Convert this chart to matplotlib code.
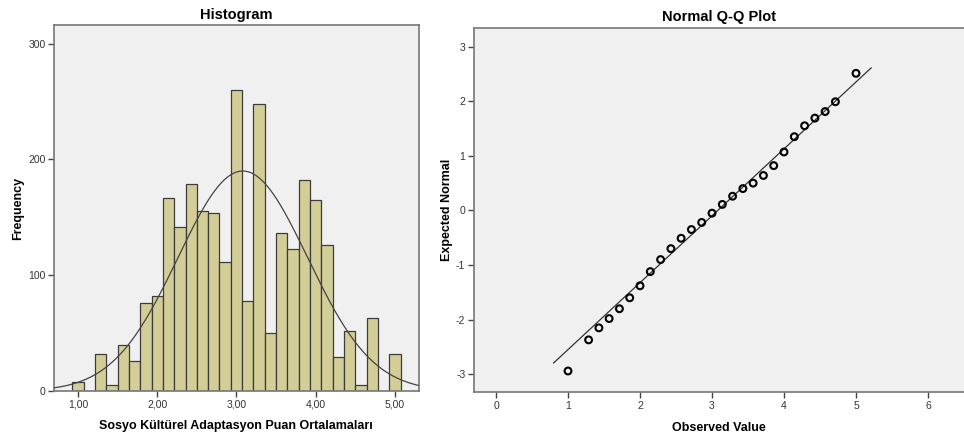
import numpy as np
import matplotlib
matplotlib.use("Agg")
import matplotlib.pyplot as plt

plt.rcParams['font.family'] = ['Liberation Sans', 'DejaVu Sans']
plt.rcParams['axes.unicode_minus'] = False

# ---- Histogram data (bin centres 1 + k/7) ----
bin_centers = [1.0, 1.142857, 1.285714, 1.428571, 1.571429, 1.714286, 1.857143,
               2.0, 2.142857, 2.285714, 2.428571, 2.571429, 2.714286, 2.857143,
               3.0, 3.142857, 3.285714, 3.428571, 3.571429, 3.714286, 3.857143,
               4.0, 4.142857, 4.285714, 4.428571, 4.571429, 4.714286, 4.857143, 5.0]
frequencies = [8, 0, 32, 5, 40, 26, 76, 82, 167, 142, 179, 155, 154, 111,
               260, 78, 248, 50, 136, 123, 182, 165, 126, 29, 52, 5, 63, 0, 32]
bin_width = 1 / 7
curve_mean = 3.08
curve_sd = 0.818
curve_n = 2726
hist_xticks = [1.0, 2.0, 3.0, 4.0, 5.0]
hist_xticklabels = ["1,00", "2,00", "3,00", "4,00", "5,00"]
hist_yticks = [0, 100, 200, 300]

# ---- Q-Q data ----
qq_observed = [1.0, 1.286, 1.429, 1.571, 1.714, 1.857, 2.0, 2.143, 2.286, 2.429,
               2.571, 2.714, 2.857, 3.0, 3.143, 3.286, 3.429, 3.571, 3.714, 3.857,
               4.0, 4.143, 4.286, 4.429, 4.571, 4.714, 5.0]
qq_expected = [-2.94, -2.37, -2.15, -1.98, -1.80, -1.60, -1.38, -1.12, -0.90, -0.70,
               -0.51, -0.35, -0.22, -0.05, 0.11, 0.26, 0.40, 0.50, 0.64, 0.82,
               1.07, 1.35, 1.55, 1.69, 1.81, 1.99, 2.51]
qq_line_x = [0.80, 5.21]
qq_xticks = [0, 1, 2, 3, 4, 5, 6]
qq_yticks = [-3, -2, -1, 0, 1, 2, 3]

BG = '#F0F0F0'
BAR = '#D3CE97'
EDGE = '#3c3c3c'
FRAME = '#777777'
TICKC = '#333333'

fig = plt.figure(figsize=(9.64, 4.38), dpi=100)

def style(ax):
    ax.set_facecolor(BG)
    for s in ax.spines.values():
        s.set_color(FRAME)
        s.set_linewidth(1.2)
    ax.tick_params(direction='out', length=4, width=1, color='#444444',
                   labelsize=7.5, labelcolor=TICKC, pad=2)

# Histogram
ax1 = fig.add_axes([54/964, 1-391/438, (418.7-54)/964, (391-25)/438])
style(ax1)
ax1.bar(bin_centers, frequencies, width=bin_width, color=BAR, edgecolor=EDGE,
        linewidth=0.9, zorder=2)
ax1.set_xlim(0.697, 5.30)
ax1.set_ylim(0, 316)
xs = np.linspace(0.697, 5.30, 400)
ys = curve_n * bin_width / (curve_sd * np.sqrt(2*np.pi)) * np.exp(-0.5*((xs-curve_mean)/curve_sd)**2)
ax1.plot(xs, ys, color='#444444', linewidth=0.9, zorder=3)
ax1.set_xticks(hist_xticks)
ax1.set_xticklabels(hist_xticklabels)
ax1.set_yticks(hist_yticks)
ax1.set_title("Histogram", fontsize=10.5, fontweight='bold', pad=4)
ax1.set_xlabel("Sosyo Kültürel Adaptasyon Puan Ortalamaları", fontsize=9, fontweight='bold', labelpad=8)
ax1.set_ylabel("Frequency", fontsize=9, fontweight='bold', labelpad=3)

# Q-Q plot
ax2 = fig.add_axes([473.7/964, 1-392.3/438, (964-473.7)/964, (392.3-28)/438])
style(ax2)
ax2.spines['right'].set_visible(False)
ax2.set_xlim(-0.31, 6.5)
ax2.set_ylim(-3.33, 3.34)
line_y = [(x - curve_mean) / (curve_sd * 0.998) for x in qq_line_x]
ax2.plot(qq_line_x, line_y, color='#333333', linewidth=0.9, zorder=2)
ax2.scatter(qq_observed, qq_expected, s=24, facecolors='none', edgecolors='black',
            linewidths=1.5, zorder=3)
ax2.set_xticks(qq_xticks)
ax2.set_yticks(qq_yticks)
ax2.set_title("Normal Q-Q Plot", fontsize=10.5, fontweight='bold', pad=5)
ax2.set_xlabel("Observed Value", fontsize=9, fontweight='bold', labelpad=8)
ax2.set_ylabel("Expected Normal", fontsize=9, fontweight='bold', labelpad=2)

fig.savefig("out.png", dpi=100)
